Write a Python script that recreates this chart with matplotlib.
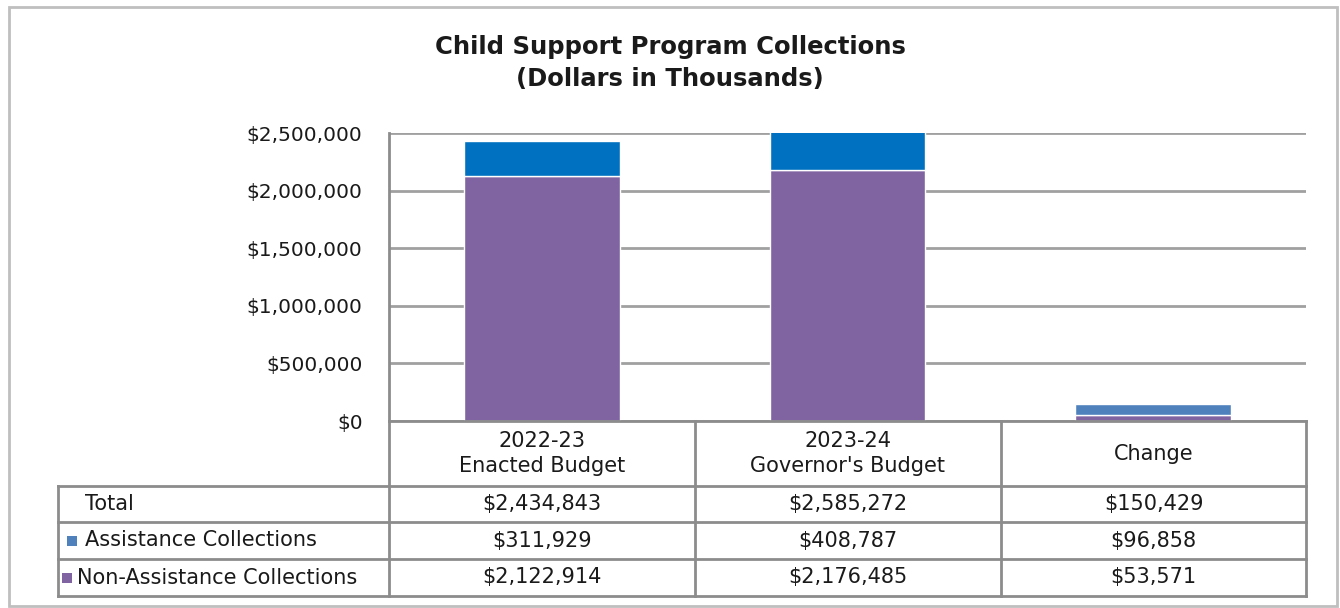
"""Child support collections: stacked bars with an Excel-style data table."""

import matplotlib

matplotlib.use("Agg")

import matplotlib.pyplot as plt  # noqa: E402
from matplotlib.lines import Line2D  # noqa: E402
from matplotlib.patches import Rectangle  # noqa: E402
from matplotlib.ticker import FuncFormatter  # noqa: E402

# ---------------------------------------------------------------------------
# Data (dollars in thousands)
# ---------------------------------------------------------------------------
categories = ["2022-23\nEnacted Budget", "2023-24\nGovernor's Budget", "Change"]
assistance = [311929, 408787, 96858]
non_assistance = [2122914, 2176485, 53571]
totals = [2434843, 2585272, 150429]
row_labels = ["Total", "Assistance Collections", "Non-Assistance Collections"]

_PURPLE = "#8064A2"
_BLUE = "#0070C0"
_BLUE_LIGHT = "#4F81BD"
_GRID = "#A0A0A0"
_TABLE = "#8C8C8C"
_TEXT = "#1a1a1a"

W, H = 1340, 608
plt.rcParams["font.family"] = ["DejaVu Sans"]

fig = plt.figure(figsize=(W / 100, H / 100), dpi=100)
fig.patch.set_facecolor("white")


def fx(px):
    return px / W


def fy(py):
    return 1 - py / H


# plot area in pixel space
left, right, top, bottom = 389, 1306, 133, 421
ax = fig.add_axes([fx(left), fy(bottom), fx(right - left), (bottom - top) / H])

x = range(len(categories))
blue_colors = [_BLUE, _BLUE, _BLUE_LIGHT]
ax.bar(x, non_assistance, width=0.51, color=_PURPLE, edgecolor="white",
       linewidth=1.0, zorder=3)
ax.bar(x, assistance, width=0.51, bottom=non_assistance, color=blue_colors,
       edgecolor="white", linewidth=1.0, zorder=3)

ax.set_xlim(-0.5, len(categories) - 0.5)
ax.set_ylim(0, 2500000)
ax.set_yticks(range(0, 2500001, 500000))
ax.yaxis.set_major_formatter(FuncFormatter(lambda v, _: f"${v:,.0f}"))
ax.tick_params(axis="y", length=0, pad=19, labelsize=14.5, labelcolor=_TEXT)
ax.set_xticks([])
ax.grid(axis="y", color=_GRID, linewidth=2, zorder=0)
for side in ("top", "right", "bottom"):
    ax.spines[side].set_visible(False)
ax.spines["left"].set_color(_TABLE)
ax.spines["left"].set_linewidth(2)

fig.text(0.5, fy(63), "Child Support Program Collections\n(Dollars in Thousands)",
         ha="center", va="center", fontsize=17.5, fontweight="bold", color=_TEXT,
         linespacing=1.4)

# ---------------------------------------------------------------------------
# Data table under the plot
# ---------------------------------------------------------------------------
col_x = [58, 389, 695, 1001, 1306]
row_y = [421, 486, 522, 559, 596]
table_fs = 15


def hline(y, x0, x1):
    fig.add_artist(Line2D([fx(x0), fx(x1)], [fy(y), fy(y)], color=_TABLE, lw=2))


def vline(x0, y0, y1):
    fig.add_artist(Line2D([fx(x0), fx(x0)], [fy(y0), fy(y1)], color=_TABLE, lw=2))


hline(row_y[0], col_x[1], col_x[-1])
for y in row_y[1:]:
    hline(y, col_x[0], col_x[-1])
vline(col_x[0], row_y[1], row_y[-1])
for cx in col_x[1:]:
    vline(cx, row_y[0], row_y[-1])

for i, label in enumerate(categories):
    cx = (col_x[i + 1] + col_x[i + 2]) / 2
    fig.text(fx(cx), fy((row_y[0] + row_y[1]) / 2), label, ha="center",
             va="center", fontsize=table_fs, color=_TEXT, linespacing=1.35)

table_rows = [totals, assistance, non_assistance]
for r, values in enumerate(table_rows):
    cy = fy((row_y[r + 1] + row_y[r + 2]) / 2)
    for i, v in enumerate(values):
        cx = (col_x[i + 1] + col_x[i + 2]) / 2
        fig.text(fx(cx), cy, f"${v:,}", ha="center", va="center",
                 fontsize=table_fs, color=_TEXT)

# row headers with legend keys
label_x = [85, 85, 77]
key_x = [None, 67, 62]
key_colors = [None, _BLUE_LIGHT, _PURPLE]
for r, label in enumerate(row_labels):
    cy_px = (row_y[r + 1] + row_y[r + 2]) / 2
    fig.text(fx(label_x[r]), fy(cy_px), label, ha="left", va="center",
             fontsize=table_fs, color=_TEXT)
    if key_x[r] is not None:
        fig.add_artist(Rectangle((fx(key_x[r]), fy(cy_px + 5)), fx(10), 10 / H,
                                 facecolor=key_colors[r], edgecolor="none"))

# chart frame
fig.add_artist(Rectangle((fx(9), fy(606)), fx(1328), 599 / H, fill=False,
                         edgecolor="#BFBFBF", linewidth=2))

fig.savefig("out.png", dpi=100, facecolor="white")
plt.close(fig)
